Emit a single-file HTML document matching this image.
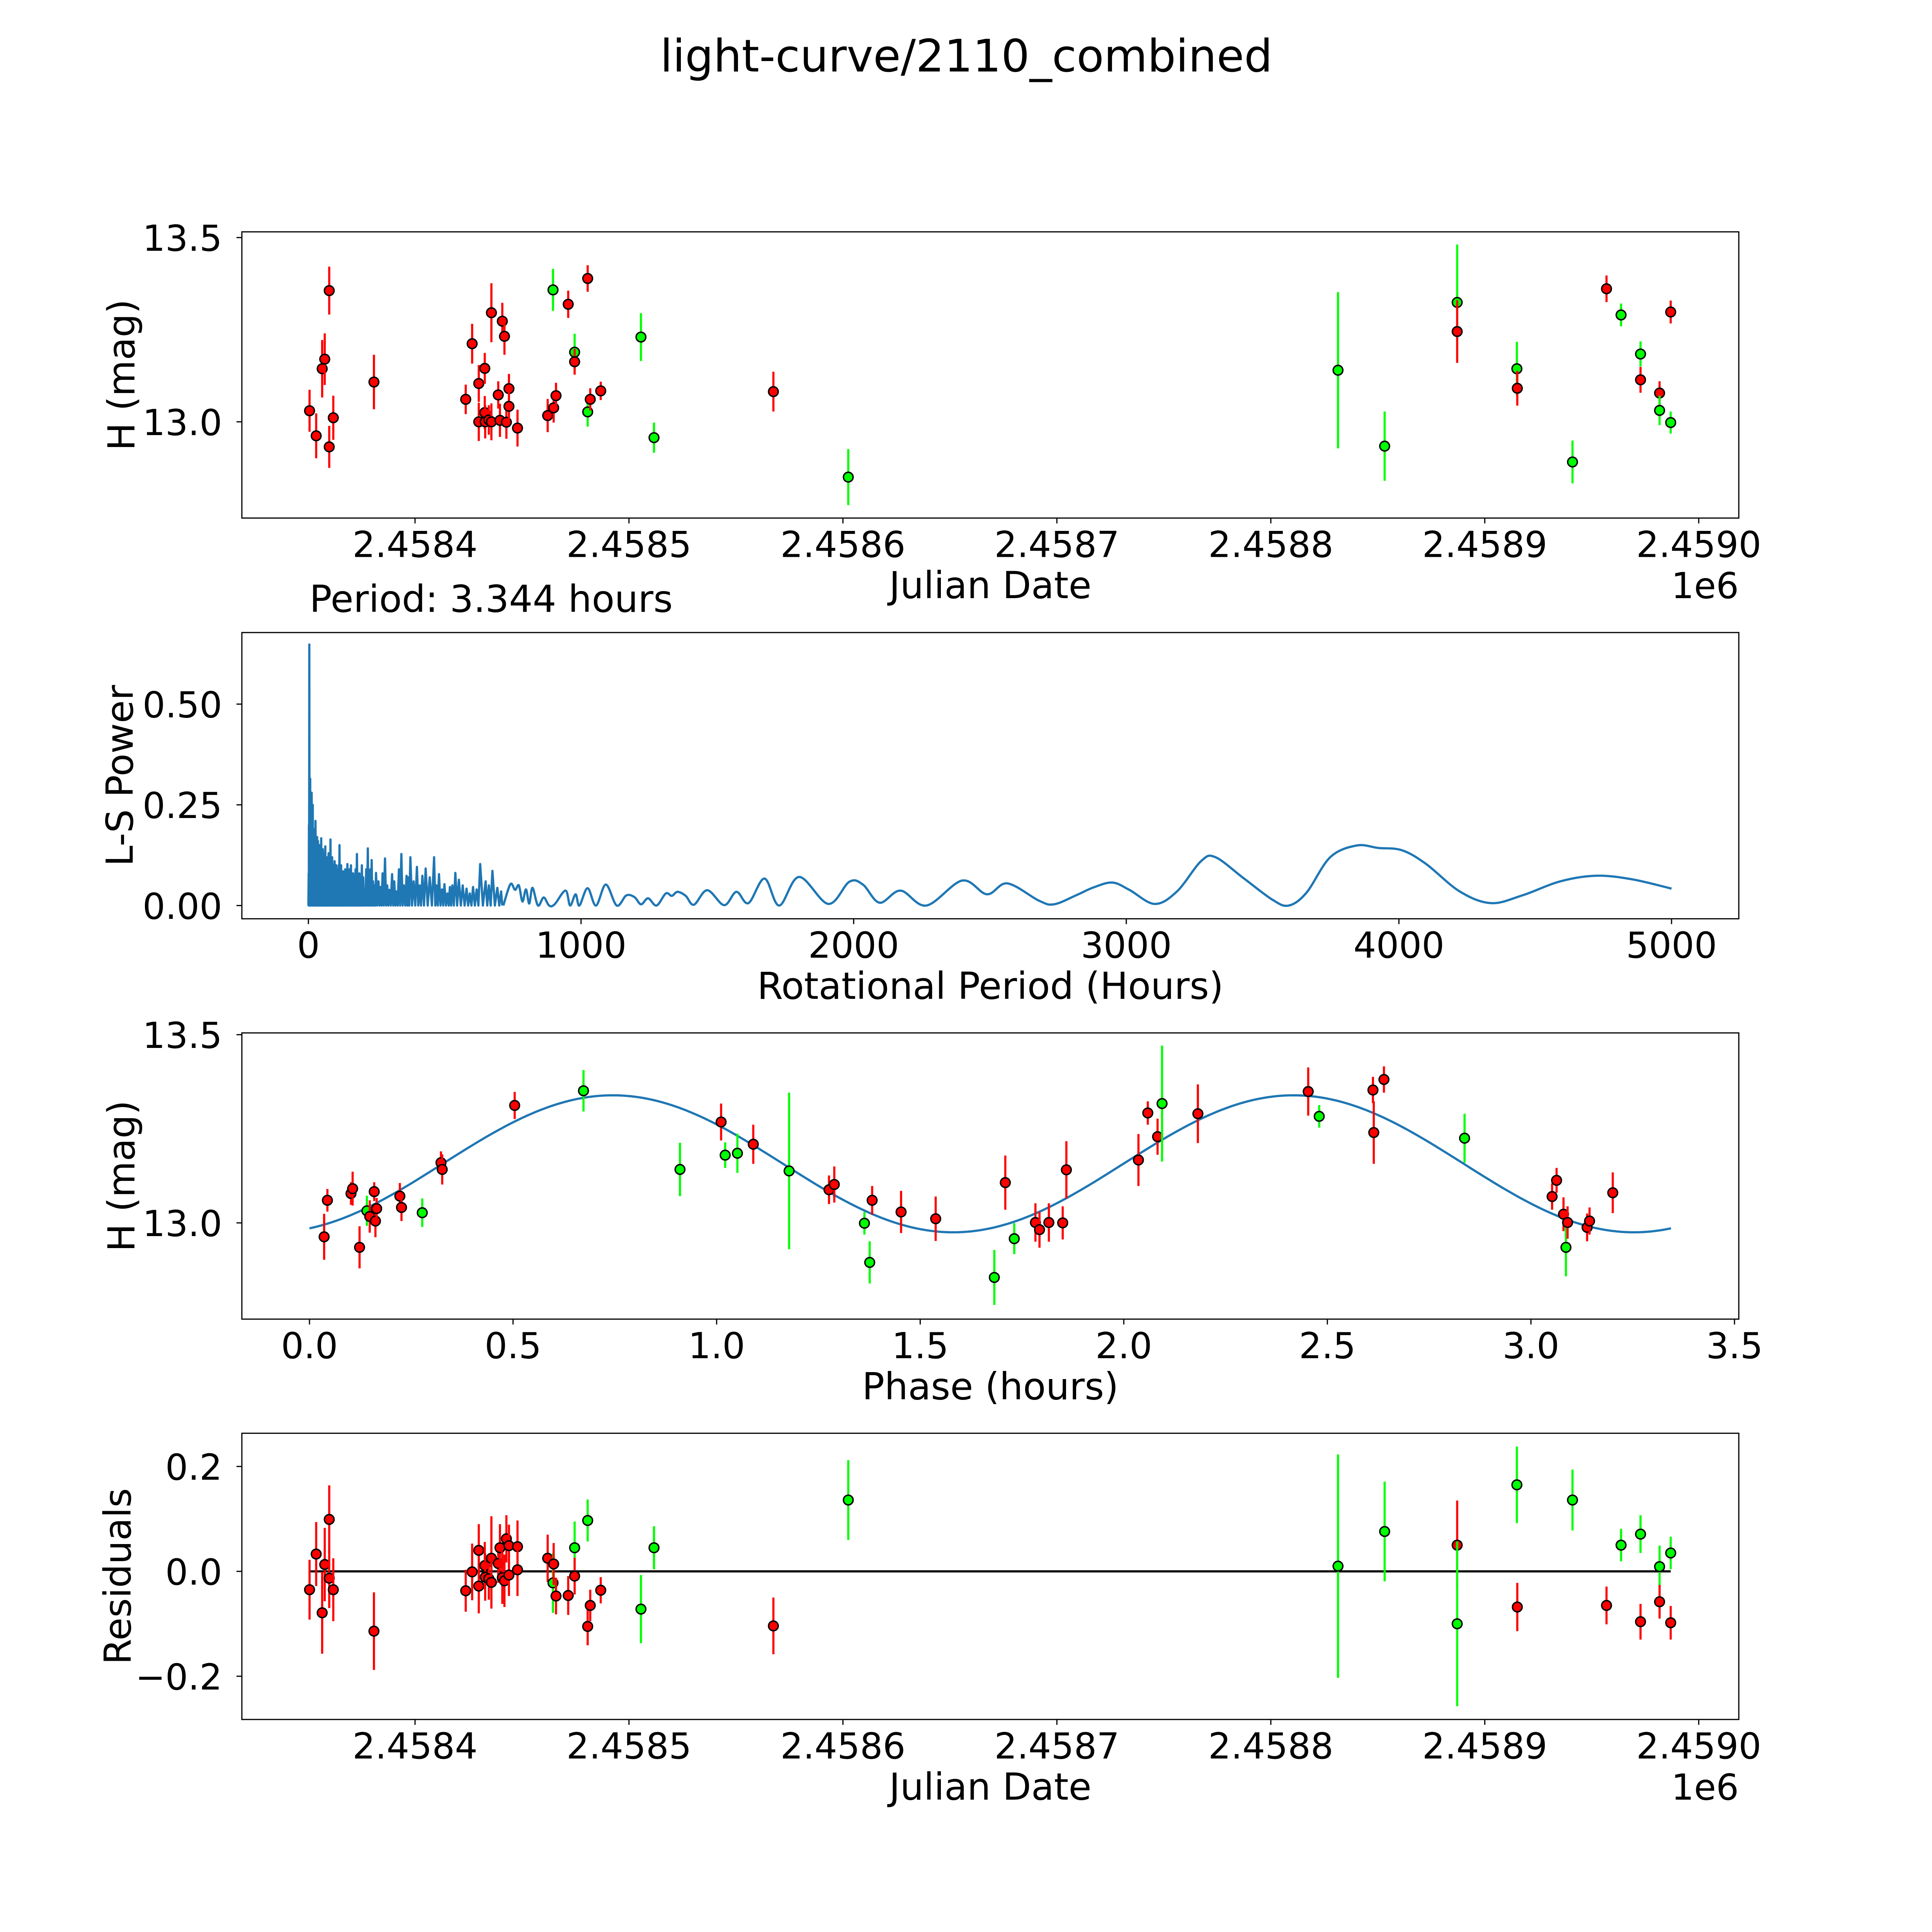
<!DOCTYPE html>
<html><head><meta charset="utf-8"><title>light-curve/2110_combined</title>
<style>html,body{margin:0;padding:0;background:#fff;overflow:hidden;width:100%;height:100%;}svg{display:block;width:100vw;height:100vh;}text{font-family:"DejaVu Sans","Liberation Sans",sans-serif;fill:#000;}</style>
</head><body>
<svg id="fig" xmlns="http://www.w3.org/2000/svg" viewBox="0 0 5400 5400" preserveAspectRatio="xMidYMid meet">
<rect x="0" y="0" width="5400" height="5400" fill="#fff"/>
<text x="2701" y="200" font-size="125" text-anchor="middle">light-curve/2110_combined</text>
<text x="865" y="1710" font-size="104">Period: 3.344 hours</text>
</svg>
<script>
// ---------- Panel 1: light curve vs Julian Date ----------
const lcJD = [2458350.7,2458353.8,2458356.6,2458357.8,2458359.9,2458359.9,2458361.8,2458380.8,2458423.7,2458426.7,2458429.8,2458429.8,2458432.6,2458432.6,2458432.8,2458434.5,2458435.7,2458435.7,2458438.9,2458439.7,2458440.8,2458441.8,2458442.7,2458443.9,2458443.9,2458447.9,2458462.0,2458464.5,2458464.8,2458465.9,2458471.6,2458474.6,2458474.6,2458480.7,2458480.7,2458481.9,2458486.8,2458505.6,2458511.7,2458567.5,2458602.5,2458831.4,2458853.2,2458887.1,2458887.1,2458915.0,2458915.2,2458941.0,2458956.9,2458963.7,2458972.8,2458972.8,2458981.7,2458981.7,2458986.9,2458986.9];
const lcMag = [13.03,12.962,13.144,13.17,13.356,12.932,13.011,13.108,13.061,13.212,13.104,13.0,13.145,13.025,13.0,13.005,13.296,13.0,13.073,13.004,13.273,13.232,12.999,13.09,13.042,12.983,13.017,13.358,13.038,13.071,13.319,13.189,13.163,13.389,13.027,13.061,13.084,13.23,12.957,13.082,12.85,13.14,12.934,13.324,13.245,13.144,13.091,12.891,13.361,13.29,13.184,13.114,13.078,13.031,13.298,12.998];
const lcErr = [0.057,0.061,0.078,0.07,0.065,0.057,0.06,0.074,0.04,0.054,0.05,0.052,0.042,0.045,0.045,0.04,0.08,0.05,0.037,0.045,0.05,0.05,0.045,0.04,0.04,0.05,0.045,0.057,0.04,0.035,0.037,0.05,0.035,0.036,0.04,0.03,0.025,0.065,0.041,0.054,0.076,0.212,0.094,0.157,0.085,0.073,0.047,0.058,0.036,0.031,0.034,0.035,0.032,0.04,0.031,0.03];
const lcColor = ['red','red','red','red','red','red','red','red','red','red','red','red','red','red','red','red','red','red','red','red','red','red','red','red','red','red','red','lime','red','red','red','lime','red','red','lime','red','red','lime','lime','red','lime','lime','lime','lime','red','lime','red','lime','red','lime','lime','red','red','lime','red','lime'];
const jdTicks = [2458400,2458500,2458600,2458700,2458800,2458900,2459000];
const jdTickLabels = ['2.4584','2.4585','2.4586','2.4587','2.4588','2.4589','2.4590'];
const magTicks = [13.0,13.5];
const magTickLabels = ['13.0','13.5'];

// ---------- Panel 2: periodogram ----------
const spikePeriods = [1,2,3.3,5,6.5,8,10,12,14,16,18,20,23,26,29,32,35,38,41,44,47,50,53,56,59,62,65,68,71,74,77,81,84,87,90,93,96,99,102,105,108,111,114,117,120,124,127,131,135,139,143,147,151,156,160,164,168,173,178,183,187,192,196,201,206,212,218,222,227,232,237,242,248,257,265,272,281,289,297,307,315,323,332,341,350,360,366,374,386,398,408,418,430,445,461,470,479,490,499,510,519,528,539,552,566,580,592,604,617,630,650,662,675,693,707];
const spikePowers = [0.08,0.2,0.648,0.27,0.315,0.2,0.26,0.28,0.22,0.25,0.17,0.19,0.15,0.21,0.14,0.17,0.16,0.13,0.15,0.12,0.167,0.1,0.14,0.11,0.13,0.147,0.1,0.12,0.09,0.13,0.11,0.164,0.1,0.12,0.09,0.1,0.11,0.08,0.1,0.09,0.07,0.1,0.15,0.08,0.1,0.07,0.085,0.06,0.09,0.07,0.103,0.06,0.09,0.1,0.05,0.08,0.06,0.09,0.128,0.06,0.08,0.05,0.1,0.07,0.04,0.09,0.142,0.05,0.09,0.113,0.06,0.05,0.081,0.06,0.046,0.08,0.117,0.05,0.039,0.078,0.06,0.035,0.09,0.128,0.05,0.074,0.07,0.12,0.06,0.096,0.05,0.074,0.092,0.07,0.12,0.05,0.078,0.04,0.053,0.03,0.046,0.05,0.081,0.064,0.05,0.042,0.03,0.046,0.04,0.103,0.06,0.05,0.086,0.044,0.035];
const smoothPeriods = [715,741,758,772,785,798,810,822,842,863,883,903,943,960,980,994,1024,1055,1091,1131,1166,1196,1220,1246,1277,1311,1333,1354,1384,1414,1463,1525,1570,1614,1673,1727,1800,1907,1984,2034,2095,2172,2267,2398,2489,2564,2680,2735,2818,2880,2949,3011,3104,3186,3274,3327,3432,3537,3596,3661,3748,3845,3924,4012,4100,4223,4337,4452,4592,4724,4856,5000];
const smoothPowers = [0.0,0.053,0.039,0.05,0.01,0.04,0.005,0.044,0.0,0.02,0.0,0.003,0.037,0.0,0.028,0.0,0.043,0.0,0.052,0.0,0.025,0.021,0.003,0.018,0.0,0.03,0.024,0.034,0.024,0.002,0.038,0.001,0.034,0.006,0.067,0.0,0.071,0.004,0.059,0.052,0.007,0.037,0.0,0.062,0.028,0.055,0.012,0.003,0.026,0.045,0.057,0.039,0.004,0.035,0.11,0.12,0.067,0.014,0.0,0.032,0.12,0.149,0.143,0.137,0.103,0.035,0.006,0.025,0.06,0.074,0.065,0.042];
const periodTicks = [0,1000,2000,3000,4000,5000];
const periodTickLabels = ['0','1000','2000','3000','4000','5000'];
const powerTicks = [0,0.25,0.5];
const powerTickLabels = ['0.00','0.25','0.50'];

// ---------- Panel 3: phase-folded ----------
const phase = [0.036,0.044,0.102,0.106,0.123,0.141,0.148,0.159,0.162,0.165,0.222,0.226,0.277,0.323,0.326,0.504,0.673,0.91,1.011,1.021,1.051,1.09,1.178,1.276,1.289,1.363,1.376,1.382,1.453,1.538,1.682,1.709,1.731,1.783,1.793,1.816,1.85,1.859,2.036,2.059,2.083,2.094,2.182,2.453,2.48,2.612,2.614,2.639,2.837,3.052,3.063,3.08,3.086,3.09,3.138,3.144,3.201];
const phaseMag = [12.963,13.06,13.078,13.091,12.935,13.032,13.017,13.083,13.005,13.038,13.071,13.041,13.027,13.16,13.142,13.312,13.351,13.142,13.268,13.18,13.185,13.209,13.138,13.088,13.102,12.999,12.895,13.06,13.029,13.011,12.855,13.107,12.958,13.001,12.982,13.001,13.0,13.141,13.167,13.292,13.229,13.317,13.29,13.349,13.283,13.353,13.24,13.381,13.225,13.07,13.113,13.023,12.935,13.001,12.988,13.005,13.08];
const phaseErr = [0.061,0.03,0.03,0.045,0.056,0.04,0.043,0.025,0.043,0.028,0.035,0.036,0.038,0.03,0.04,0.036,0.055,0.071,0.049,0.034,0.052,0.052,0.208,0.038,0.048,0.03,0.056,0.038,0.056,0.059,0.073,0.072,0.041,0.051,0.048,0.051,0.044,0.076,0.069,0.031,0.048,0.154,0.078,0.064,0.03,0.035,0.083,0.035,0.065,0.035,0.033,0.045,0.077,0.043,0.037,0.036,0.054];
const phaseColor = ['red','red','red','red','red','lime','red','red','red','red','red','red','lime','red','red','red','lime','lime','red','lime','lime','red','lime','red','red','lime','lime','red','red','red','lime','red','lime','red','red','red','red','red','red','red','red','lime','red','red','lime','red','red','red','lime','red','red','red','lime','red','red','red','red'];
const fitMean = [13.157];
const fitAmplitude = [0.182];
const fitPeakPhase = [0.745];
const fitPeriod = [3.344];
const phaseTicks = [0,0.5,1,1.5,2,2.5,3,3.5];
const phaseTickLabels = ['0.0','0.5','1.0','1.5','2.0','2.5','3.0','3.5'];

// ---------- Panel 4: residuals ----------
const resJD = [2458350.7,2458353.8,2458356.6,2458357.8,2458359.9,2458359.9,2458361.8,2458380.8,2458423.7,2458426.7,2458429.8,2458429.8,2458432.6,2458432.8,2458434.5,2458435.7,2458435.7,2458438.9,2458439.7,2458440.8,2458441.8,2458442.7,2458443.9,2458443.9,2458447.9,2458447.9,2458462.0,2458464.5,2458464.8,2458465.9,2458471.6,2458474.6,2458474.6,2458480.7,2458480.7,2458481.9,2458486.8,2458505.6,2458511.7,2458567.5,2458602.5,2458831.4,2458853.2,2458887.1,2458887.1,2458915.0,2458915.2,2458941.0,2458956.9,2458963.7,2458972.8,2458972.8,2458981.7,2458981.7,2458986.9,2458986.9];
const resVal = [-0.035,0.033,-0.079,0.013,0.099,-0.013,-0.035,-0.114,-0.037,-0.001,0.04,-0.028,0.011,-0.011,-0.014,0.025,-0.021,0.015,0.045,-0.012,-0.018,0.062,0.049,-0.007,0.047,0.003,0.025,-0.022,0.014,-0.047,-0.046,0.045,-0.009,-0.105,0.097,-0.065,-0.036,-0.072,0.045,-0.104,0.136,0.01,0.076,0.05,-0.1,0.165,-0.068,0.136,-0.065,0.05,0.071,-0.096,0.009,-0.058,0.035,-0.098];
const resErr = [0.057,0.061,0.078,0.07,0.065,0.057,0.06,0.074,0.04,0.054,0.05,0.052,0.045,0.045,0.04,0.08,0.05,0.037,0.045,0.05,0.05,0.045,0.04,0.04,0.05,0.05,0.045,0.057,0.04,0.035,0.037,0.05,0.035,0.036,0.04,0.03,0.025,0.065,0.041,0.054,0.076,0.213,0.095,0.085,0.157,0.073,0.046,0.058,0.036,0.031,0.036,0.034,0.04,0.032,0.031,0.032];
const resColor = ['red','red','red','red','red','red','red','red','red','red','red','red','red','red','red','red','red','red','red','red','red','red','red','red','red','red','red','lime','red','red','red','lime','red','red','lime','red','red','lime','lime','red','lime','lime','lime','red','lime','lime','red','lime','red','lime','lime','red','lime','red','lime','red'];
const resTicks = [-0.2,0,0.2];
const resTickLabels = ['\u22120.2','0.0','0.2'];

const NS = 'http://www.w3.org/2000/svg';
const svg = document.getElementById('fig');
const AX_L = 676, AX_R = 4860;

function mk(tag, attrs, parent) {
  const e = document.createElementNS(NS, tag);
  for (const k in attrs) e.setAttribute(k, attrs[k]);
  (parent || svg).appendChild(e);
  return e;
}

// axis functions
const xJD = jd => 1160 + (jd - 2458400) * 5.98;
const y1 = m => 1179 - (m - 13) * 1030;
const xP = p => 862 + p * 0.762;
const y2 = v => 2531 - v * 1126;
const xPh = ph => 865 + ph * 1138;
const y3 = m => 3418 - (m - 13) * 1052;
const y4 = r => 4392 - r * 1466;

function frame(name, top, bottom, xt, xl, xf, yt, yl, yf, xlabel, ylabel, ylabX, offset) {
  const g = mk('g', {});
  
  
  xt.forEach((t, i) => {
    const x = xf(t);
    const tk = mk('line', {x1: x, x2: x, y1: bottom, y2: bottom + 15, stroke: '#000', 'stroke-width': 3.3}, g);
    
    
    const tx = mk('text', {x: x, y: bottom + 109, 'font-size': 100, 'text-anchor': 'middle'}, g);
    tx.textContent = xl[i];
    
    
  });
  yt.forEach((t, i) => {
    const y = yf(t);
    const tk = mk('line', {x1: AX_L - 15, x2: AX_L, y1: y, y2: y, stroke: '#000', 'stroke-width': 3.3}, g);
    
    
    const tx = mk('text', {x: 621, y: y + 37, 'font-size': 100, 'text-anchor': 'end'}, g);
    tx.textContent = yl[i];
    
    
  });
  const xlab = mk('text', {x: (AX_L + AX_R) / 2, y: bottom + 224, 'font-size': 104, 'text-anchor': 'middle'}, g);
  xlab.textContent = xlabel;
  
  
  const cy = (top + bottom) / 2;
  const ylab = mk('text', {x: ylabX, y: cy, 'font-size': 104, 'text-anchor': 'middle', transform: 'rotate(-90 ' + ylabX + ' ' + cy + ')'}, g);
  ylab.textContent = ylabel;
  
  
  if (offset) {
    const o = mk('text', {x: AX_R, y: bottom + 224, 'font-size': 100, 'text-anchor': 'end'}, g);
    o.textContent = offset;
    
    
  }
  return g;
}
function border(top, bottom) {
  const r = mk('rect', {x: AX_L, y: top, width: AX_R - AX_L, height: bottom - top, fill: 'none', stroke: '#000', 'stroke-width': 3.3});
  
  
}
function clip(id, top, bottom) {
  const d = mk('clipPath', {id: id});
  mk('rect', {x: AX_L, y: top, width: AX_R - AX_L, height: bottom - top}, d);
}
function points(name, xs, ys, es, cs, xf, yf, top, bottom, cid) {
  const g = mk('g', {'clip-path': 'url(#' + cid + ')'});
  
  
  for (let i = 0; i < xs.length; i++) {
    const x = xf(xs[i]);
    const eb = mk('line', {x1: x, x2: x, y1: yf(ys[i] - es[i]), y2: yf(ys[i] + es[i]), stroke: cs[i], 'stroke-width': 6}, g);
    
    
    const c = mk('circle', {cx: x, cy: yf(ys[i]), r: 13.5, fill: cs[i], stroke: '#000', 'stroke-width': 4}, g);
    
    
  }
}
function smoothPath(pts) {
  let d = 'M' + pts[0][0].toFixed(1) + ',' + pts[0][1].toFixed(1);
  for (let i = 0; i < pts.length - 1; i++) {
    const p0 = pts[Math.max(0, i - 1)], p1 = pts[i], p2 = pts[i + 1], p3 = pts[Math.min(pts.length - 1, i + 2)];
    const c1x = p1[0] + (p2[0] - p0[0]) / 6, c1y = p1[1] + (p2[1] - p0[1]) / 6;
    const c2x = p2[0] - (p3[0] - p1[0]) / 6, c2y = p2[1] - (p3[1] - p1[1]) / 6;
    d += 'C' + c1x.toFixed(1) + ',' + c1y.toFixed(1) + ' ' + c2x.toFixed(1) + ',' + c2y.toFixed(1) + ' ' + p2[0].toFixed(1) + ',' + p2[1].toFixed(1);
  }
  return d;
}

const defs = mk('defs', {});
// Panel 1
(function(){
  const top = 648, bottom = 1448;
  clip('c1', top, bottom);
  frame('light-curve-panel', top, bottom, jdTicks, jdTickLabels, xJD, magTicks, magTickLabels, y1, 'Julian Date', 'H (mag)', 376, '1e6');
  points('light-curve-points', lcJD, lcMag, lcErr, lcColor, xJD, y1, top, bottom, 'c1');
  border(top, bottom);
})();
// Panel 2
(function(){
  const top = 1768, bottom = 2568;
  clip('c2', top, bottom);
  frame('periodogram-panel', top, bottom, periodTicks, periodTickLabels, xP, powerTicks, powerTickLabels, y2, 'Rotational Period (Hours)', 'L-S Power', 371, null);
  let d = 'M' + xP(0).toFixed(1) + ',' + y2(0).toFixed(1);
  for (let i = 0; i < spikePeriods.length; i++) {
    d += 'L' + xP(spikePeriods[i]).toFixed(1) + ',' + y2(spikePowers[i]).toFixed(1);
    const nextP = i + 1 < spikePeriods.length ? spikePeriods[i + 1] : smoothPeriods[0];
    d += 'L' + xP((spikePeriods[i] + nextP) / 2).toFixed(1) + ',' + y2(0).toFixed(1);
  }
  const spikes = mk('path', {d: d, fill: 'none', stroke: '#1f77b4', 'stroke-width': 6.25, 'stroke-linejoin': 'round', 'clip-path': 'url(#c2)'});
  
  
  const pts = smoothPeriods.map((p, i) => [xP(p), y2(smoothPowers[i])]);
  const sm = mk('path', {d: smoothPath(pts), fill: 'none', stroke: '#1f77b4', 'stroke-width': 6.25, 'clip-path': 'url(#c2)'});
  
  
  border(top, bottom);
})();
// Panel 3
(function(){
  const top = 2887, bottom = 3687;
  clip('c3', top, bottom);
  frame('phase-panel', top, bottom, phaseTicks, phaseTickLabels, xPh, magTicks, magTickLabels, y3, 'Phase (hours)', 'H (mag)', 376, null);
  let d = '';
  const n = 300;
  for (let i = 0; i <= n; i++) {
    const ph = fitPeriod[0] * i / n;
    const m = fitMean[0] + fitAmplitude[0] * Math.cos(2 * Math.PI * (ph - fitPeakPhase[0]) / (fitPeriod[0] / 2));
    d += (i ? 'L' : 'M') + xPh(ph).toFixed(1) + ',' + y3(m).toFixed(1);
  }
  const fit = mk('path', {d: d, fill: 'none', stroke: '#1f77b4', 'stroke-width': 6.25});
  
  
  points('phase-points', phase, phaseMag, phaseErr, phaseColor, xPh, y3, top, bottom, 'c3');
  border(top, bottom);
})();
// Panel 4
(function(){
  const top = 4006, bottom = 4806;
  clip('c4', top, bottom);
  frame('residuals-panel', top, bottom, jdTicks, jdTickLabels, xJD, resTicks, resTickLabels, y4, 'Julian Date', 'Residuals', 365, '1e6');
  const zl = mk('line', {x1: xJD(Math.min.apply(null, resJD)), x2: xJD(Math.max.apply(null, resJD)), y1: y4(0), y2: y4(0), stroke: '#000', 'stroke-width': 6});
  
  
  points('residual-points', resJD, resVal, resErr, resColor, xJD, y4, top, bottom, 'c4');
  border(top, bottom);
})();
</script>
</body></html>
